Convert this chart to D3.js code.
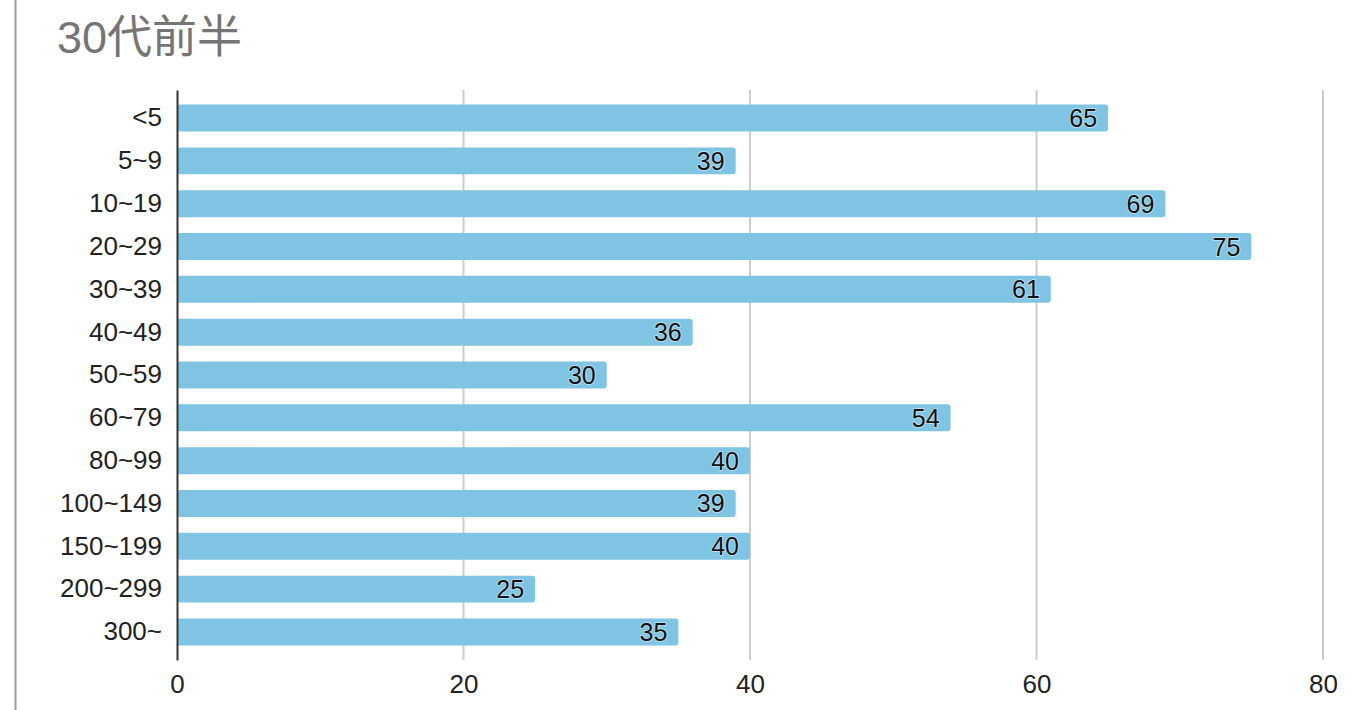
<!DOCTYPE html>
<html>
<head>
<meta charset="utf-8">
<script src="https://cdn.jsdelivr.net/npm/d3@7"></script>
<style>
  body { margin: 0; background: #fff; }
  text { font-family: "Liberation Sans", Arial, "Noto Sans CJK JP", sans-serif; }
</style>
</head>
<body>
<div class="container"></div>
<script>
// data
var categories = ["<5", "5~9", "10~19", "20~29", "30~39", "40~49", "50~59", "60~79", "80~99", "100~149", "150~199", "200~299", "300~"];
var values = [65, 39, 69, 75, 61, 36, 30, 54, 40, 39, 40, 25, 35];
var xTicks = [0, 20, 40, 60, 80];

var svgWidth = 1356;
var svgHeight = 710;

var margin = { top: 90, right: 33, bottom: 50, left: 177 };
var width = svgWidth - margin.left - margin.right;
var height = svgHeight - margin.top - margin.bottom;

var svg = d3.select(".container")
  .append("svg")
  .attr("width", svgWidth)
  .attr("height", svgHeight);

// left page border
svg.append("line")
  .attr("x1", 15.5).attr("x2", 15.5)
  .attr("y1", 0).attr("y2", svgHeight)
  .attr("stroke", "#9e9e9e")
  .attr("stroke-width", 2);

// title
svg.append("text")
  .attr("x", 57)
  .attr("y", 53)
  .attr("font-size", 45)
  .attr("fill", "#757575")
  .style("font-family", "'Liberation Sans', 'Noto Sans CJK JP', sans-serif")
  .text("30代前半");

var chartGroup = svg.append("g")
  .attr("transform", `translate(${margin.left}, ${margin.top})`);

var x = d3.scaleLinear().domain([0, 80]).range([0, width]);
var y = d3.scaleBand()
  .domain(categories)
  .range([0, height])
  .paddingInner(0.37)
  .paddingOuter(0.34);

// grid lines
chartGroup.selectAll(".grid")
  .data(xTicks.slice(1))
  .enter()
  .append("line")
  .attr("x1", d => x(d)).attr("x2", d => x(d))
  .attr("y1", 0).attr("y2", height)
  .attr("stroke", "#cccccc")
  .attr("stroke-width", 2);

// bars
chartGroup.selectAll("rect")
  .data(values)
  .enter()
  .append("rect")
  .attr("x", 0)
  .attr("y", (d, i) => y(categories[i]))
  .attr("width", d => x(d))
  .attr("height", y.bandwidth())
  .attr("rx", 3)
  .attr("fill", "#7fc4e3");

// value labels
chartGroup.selectAll(".val")
  .data(values)
  .enter()
  .append("text")
  .attr("x", d => x(d) - 11)
  .attr("y", (d, i) => y(categories[i]) + y.bandwidth() / 2)
  .attr("dy", "0.36em")
  .attr("text-anchor", "end")
  .attr("font-size", 25)
  .attr("fill", "#111")
  .attr("stroke", "rgba(255,255,255,0.45)")
  .attr("stroke-width", 2)
  .attr("stroke-linejoin", "round")
  .attr("paint-order", "stroke")
  .text(d => d);

// y axis
var yAxis = chartGroup.append("g")
  .call(d3.axisLeft(y).tickSize(0).tickPadding(15));
yAxis.select(".domain").attr("stroke", "#333").attr("stroke-width", 2);
yAxis.selectAll("text").attr("font-size", 26).attr("fill", "#222")
  .style("font-family", "'Liberation Sans', Arial, sans-serif");

// x axis
var xAxis = chartGroup.append("g")
  .attr("transform", `translate(0, ${height})`)
  .call(d3.axisBottom(x).tickValues(xTicks).tickSize(0).tickPadding(15));
xAxis.select(".domain").remove();
xAxis.selectAll("text").attr("font-size", 26).attr("fill", "#222")
  .style("font-family", "'Liberation Sans', Arial, sans-serif");
</script>
</body>
</html>
